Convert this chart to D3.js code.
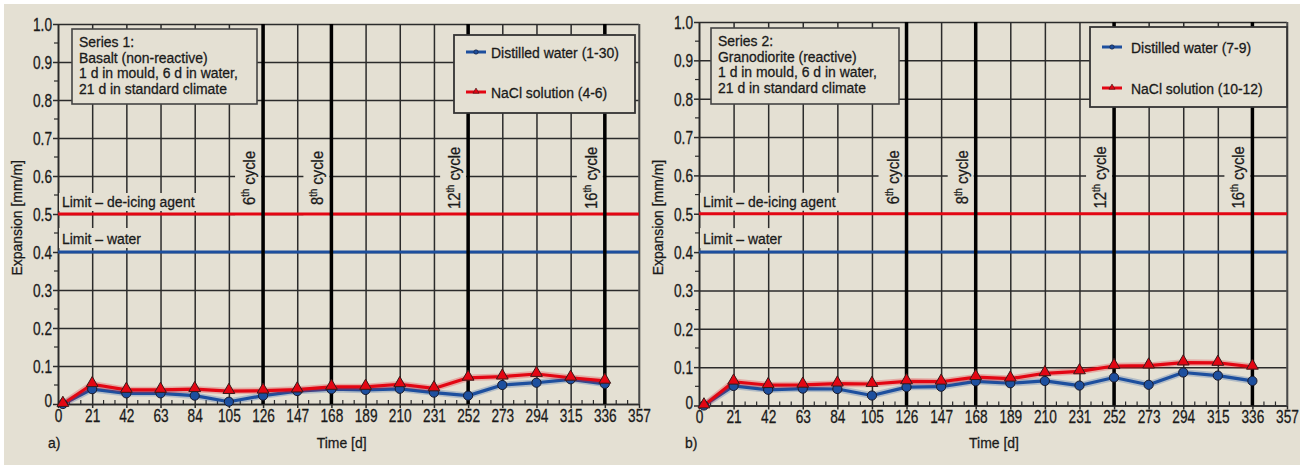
<!DOCTYPE html>
<html><head><meta charset="utf-8">
<script src="https://cdn.jsdelivr.net/npm/d3@7/dist/d3.min.js"></script>
<style>
html,body{margin:0;padding:0;background:#fff;}
svg{display:block;}
text{font-family:"Liberation Sans",Arial,sans-serif;fill:#1a1a1a;stroke:#1a1a1a;stroke-width:0.3px;}
</style></head>
<body>
<svg id="chart" width="1304" height="465"></svg>
<script>
// ---------- data ----------
const days = [3, 21, 42, 63, 84, 105, 126, 147, 168, 189, 210, 231, 252, 273, 294, 315, 336];
const s1Water = [0, 0.039, 0.028, 0.028, 0.022, 0.006, 0.022, 0.034, 0.039, 0.037, 0.040, 0.030, 0.022, 0.050, 0.056, 0.065, 0.053];
const s1NaCl  = [0, 0.052, 0.037, 0.037, 0.039, 0.034, 0.035, 0.038, 0.045, 0.045, 0.052, 0.041, 0.069, 0.072, 0.079, 0.069, 0.061];
const s2Water = [0, 0.051, 0.041, 0.044, 0.043, 0.026, 0.048, 0.049, 0.063, 0.058, 0.064, 0.052, 0.073, 0.054, 0.086, 0.078, 0.064];
const s2NaCl  = [0, 0.062, 0.053, 0.054, 0.057, 0.056, 0.063, 0.062, 0.074, 0.070, 0.084, 0.089, 0.103, 0.104, 0.112, 0.111, 0.101];
const xTicks = [0, 21, 42, 63, 84, 105, 126, 147, 168, 189, 210, 231, 252, 273, 294, 315, 336, 357];
const yTicks = [0, 0.1, 0.2, 0.3, 0.4, 0.5, 0.6, 0.7, 0.8, 0.9, 1.0];
const yTickLabels = ["0", "0.1", "0.2", "0.3", "0.4", "0.5", "0.6", "0.7", "0.8", "0.9", "1.0"];
const cycleDays = [126, 168, 252, 336];
const cycleNums = ["6", "8", "12", "16"];
const limitWater = 0.4;
const limitDeicing = 0.5;
const panel1Notes = ["Series 1:", "Basalt (non-reactive)", "1 d in mould, 6 d in water,", "21 d in standard climate"];
const panel2Notes = ["Series 2:", "Granodiorite (reactive)", "1 d in mould, 6 d in water,", "21 d in standard climate"];
const panel1Legend = ["Distilled water (1-30)", "NaCl solution (4-6)"];
const panel2Legend = ["Distilled water (7-9)", "NaCl solution (10-12)"];

// ---------- styles ----------
const BG = "#e4e0d3", GRID = "#2b2b2b", RED = "#e30613", BLUE = "#1d4f9e";
const KT = 0.90;   // horizontal condensing for text
const KN = 0.76;   // horizontal condensing for tick numbers

const svg = d3.select("#chart");
svg.append("rect").attr("x", 4).attr("y", 4).attr("width", 1296).attr("height", 461).attr("fill", BG);

function txt(g, x, y, s, size, rot) {
  return g.append("text").attr("font-size", size)
    .attr("transform", `translate(${x},${y})${rot ? " rotate(-90)" : ""} scale(${KT},1)`).text(s);
}

function panel(cfg) {
  const x = d3.scaleLinear().domain([0, 357]).range([cfg.left, cfg.right]);
  const y = d3.scaleLinear().domain([0, 1]).range([cfg.bottom, cfg.top]);
  const g = svg.append("g");

  // minor ticks
  const minorX = d3.range(7, 357, 7).filter(d => d % 21 !== 0);
  g.append("g").selectAll("line").data(minorX).join("line")
    .attr("x1", d => x(d)).attr("x2", d => x(d))
    .attr("y1", y(0)).attr("y2", y(0) - 4)
    .attr("stroke", GRID).attr("stroke-width", 1.2);
  const minorY = d3.range(0.05, 1, 0.1);
  g.append("g").selectAll("line").data(minorY).join("line")
    .attr("x1", x(0) - 4).attr("x2", x(0))
    .attr("y1", d => y(d)).attr("y2", d => y(d))
    .attr("stroke", GRID).attr("stroke-width", 1.2);

  // grid via axes
  const gx = g.append("g").attr("transform", `translate(0,${y(0)})`)
    .call(d3.axisBottom(x).tickValues(xTicks).tickSize(-(cfg.bottom - cfg.top)).tickSizeOuter(0).tickPadding(5).tickFormat(d3.format("d")));
  gx.select(".domain").attr("stroke", GRID).attr("stroke-width", 1.6);
  gx.selectAll(".tick line").attr("stroke", GRID).attr("stroke-width", 1.5);
  gx.selectAll(".tick text").attr("font-size", 18).attr("fill", "#1a1a1a")
    .attr("transform", `scale(${KN},1)`)
    .style("font-family", '"Liberation Sans",Arial,sans-serif');
  gx.selectAll(".tick").append("line").attr("y1", 0).attr("y2", 4).attr("stroke", GRID).attr("stroke-width", 1.5);

  const gy = g.append("g").attr("transform", `translate(${x(0)},0)`)
    .call(d3.axisLeft(y).tickValues(yTicks).tickSize(-(cfg.right - cfg.left)).tickSizeOuter(0).tickPadding(6)
      .tickFormat((d, i) => yTickLabels[i]));
  gy.select(".domain").attr("stroke", GRID).attr("stroke-width", 1.6);
  gy.selectAll(".tick line").attr("stroke", GRID).attr("stroke-width", 1.5);
  gy.selectAll(".tick").append("line").attr("x1", 0).attr("x2", -5).attr("stroke", GRID).attr("stroke-width", 1.5);
  gy.selectAll(".tick text").attr("font-size", 18).attr("fill", "#1a1a1a")
    .style("font-family", '"Liberation Sans",Arial,sans-serif')
    .attr("x", -6 / KN).attr("transform", `scale(${KN},1)`)
    .attr("dy", (d) => d === 0 ? "0.15em" : "0.36em");
  // right border
  g.append("line").attr("x1", x(357)).attr("x2", x(357)).attr("y1", y(0)).attr("y2", y(1))
    .attr("stroke", "#555").attr("stroke-width", 1.5);

  // label backgrounds (cover grid)
  g.append("rect").attr("x", x(0) + 1).attr("y", y(limitDeicing) - 21).attr("width", 142).attr("height", 18).attr("fill", BG);
  g.append("rect").attr("x", x(0) + 1).attr("y", y(limitWater) - 24).attr("width", 86).attr("height", 20).attr("fill", BG);
  cycleDays.forEach(d => {
    g.append("rect").attr("x", x(d) - 28).attr("y", y(0.57) - 33).attr("width", 26).attr("height", 64).attr("fill", BG);
  });

  // limit lines
  g.append("line").attr("x1", x(0)).attr("x2", x(357)).attr("y1", y(limitDeicing)).attr("y2", y(limitDeicing))
    .attr("stroke", RED).attr("stroke-width", 3);
  g.append("line").attr("x1", x(0)).attr("x2", x(357)).attr("y1", y(limitWater)).attr("y2", y(limitWater))
    .attr("stroke", BLUE).attr("stroke-width", 3);
  txt(g, x(0) + 4, y(limitDeicing) - 7, "Limit – de-icing agent", 15.5);
  txt(g, x(0) + 4, y(limitWater) - 8, "Limit – water", 15.5);

  // cycle lines
  g.append("g").selectAll("line").data(cycleDays).join("line")
    .attr("x1", d => x(d)).attr("x2", d => x(d)).attr("y1", y(0)).attr("y2", y(1))
    .attr("stroke", "#000").attr("stroke-width", 3.5);
  cycleDays.forEach((d, i) => {
    const t = g.append("text").attr("font-size", 16.5).attr("text-anchor", "middle")
      .attr("transform", `translate(${x(d) - 8},${y(0.595)}) rotate(-90) scale(${KT},1)`);
    t.append("tspan").text(cycleNums[i]);
    t.append("tspan").attr("font-size", 10.5).attr("dy", -6).text("th");
    t.append("tspan").attr("dy", 6).text(" cycle");
  });

  // data series
  const line = d3.line().x((d, i) => x(days[i])).y(d => y(d));
  [[cfg.water, BLUE], [cfg.nacl, RED]].forEach(([vals, col]) => {
    g.append("path").datum(vals).attr("d", line).attr("fill", "none")
      .attr("stroke", col).attr("stroke-opacity", 0.25).attr("stroke-width", 6.5).attr("stroke-linejoin", "round");
    g.append("path").datum(vals).attr("d", line).attr("fill", "none")
      .attr("stroke", col).attr("stroke-width", 3.2).attr("stroke-linejoin", "round");
  });
  g.append("g").selectAll("circle").data(cfg.water).join("circle")
    .attr("cx", (d, i) => x(days[i])).attr("cy", d => y(d)).attr("r", 4.6)
    .attr("fill", BLUE).attr("stroke", "#1a1a2a").attr("stroke-width", 1);
  const tri = d3.symbol().type(d3.symbolTriangle).size(60);
  g.append("g").selectAll("path").data(cfg.nacl).join("path")
    .attr("d", tri).attr("transform", (d, i) => `translate(${x(days[i])},${y(d) - 1})`)
    .attr("fill", RED).attr("stroke", "#3a1a1a").attr("stroke-width", 1);

  // notes box
  const nb = cfg.notesBox;
  g.append("rect").attr("x", nb[0]).attr("y", nb[1]).attr("width", nb[2]).attr("height", nb[3])
    .attr("fill", BG).attr("stroke", "#444").attr("stroke-width", 1.6);
  cfg.notes.forEach((s, i) => txt(g, nb[0] + 7, nb[1] + 18 + i * 15.6, s, 15.5));

  // legend box
  const lb = cfg.legendBox;
  g.append("rect").attr("x", lb[0]).attr("y", lb[1]).attr("width", lb[2]).attr("height", lb[3])
    .attr("fill", BG).attr("stroke", "#333").attr("stroke-width", 1.8);
  cfg.legend.forEach((s, i) => {
    const ly = cfg.legendRows[i];
    const col = i === 0 ? BLUE : RED;
    g.append("line").attr("x1", lb[0] + 12).attr("x2", lb[0] + 32).attr("y1", ly).attr("y2", ly)
      .attr("stroke", col).attr("stroke-width", 3);
    if (i === 0) {
      g.append("circle").attr("cx", lb[0] + 22).attr("cy", ly).attr("r", 2.2).attr("fill", BLUE).attr("stroke", "#1a1a2a").attr("stroke-width", 0.6);
    } else {
      g.append("path").attr("d", d3.symbol().type(d3.symbolTriangle).size(16)).attr("transform", `translate(${lb[0] + 22},${ly - 0.5})`)
        .attr("fill", RED).attr("stroke", "#3a1a1a").attr("stroke-width", 0.6);
    }
    txt(g, lb[0] + cfg.legendTextDx, ly + 5.5, s, 15.5);
  });

  // axis titles
  txt(g, cfg.left - 36, y(0.49), "Expansion [mm/m]", 15.5, true).attr("text-anchor", "middle");
  txt(g, x(cfg.timeAt), 448, "Time [d]", 15.5);
  txt(g, cfg.left + cfg.tagDx, 448, cfg.tag, 15.5);
}

panel({left: 58, right: 639, top: 24, bottom: 404, water: s1Water, nacl: s1NaCl,
  notesBox: [72, 29, 185, 75], notes: panel1Notes, legendBox: [454, 35, 181, 78], legend: panel1Legend,
  legendRows: [52, 92], legendTextDx: 37, tag: "a)", tagDx: -10, timeAt: 159});
panel({left: 699, right: 1287, top: 22, bottom: 405.5, water: s2Water, nacl: s2NaCl,
  notesBox: [711, 28, 188, 76], notes: panel2Notes, legendBox: [1090, 27, 197, 80], legend: panel2Legend,
  legendRows: [47, 88], legendTextDx: 41, tag: "b)", tagDx: -14, timeAt: 164});
</script>
</body></html>
